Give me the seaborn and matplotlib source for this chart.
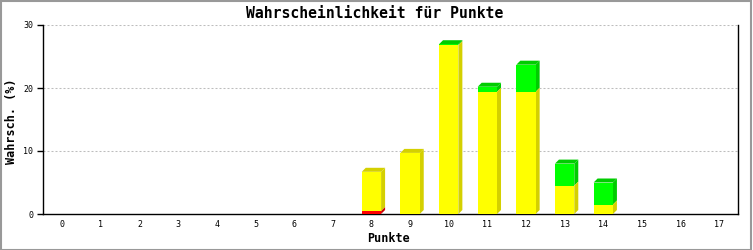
import matplotlib
matplotlib.use("Agg")
import matplotlib.pyplot as plt
import seaborn as sns
import pandas as pd
import numpy as np
from matplotlib.patches import Polygon, Rectangle

# ---- data ----
categories = [str(i) for i in range(18)]
red    = [0, 0, 0, 0, 0, 0, 0, 0, 0.45, 0, 0, 0, 0, 0, 0, 0, 0, 0]
yellow = [0, 0, 0, 0, 0, 0, 0, 0, 6.25, 9.7, 26.8, 19.4, 19.4, 4.5, 1.5, 0, 0, 0]
green  = [0, 0, 0, 0, 0, 0, 0, 0, 0, 0, 0.15, 0.8, 4.3, 3.5, 3.5, 0, 0, 0]
yticks = [0, 10, 20, 30]

title = "Wahrscheinlichkeit für Punkte"
xlabel = "Punkte"
ylabel = "Wahrsch. (%)"

front_cols = {"red": "#ff0000", "yellow": "#ffff00", "green": "#00ff00"}
side_cols = {"red": "#cc0000", "yellow": "#d4d000", "green": "#00cc00"}

sns.set_style("white")
plt.rcParams["font.family"] = ["DejaVu Sans Mono", "DejaVu Sans"]
plt.rcParams["lines.scale_dashes"] = False
for k in ["text.color", "axes.labelcolor", "xtick.color", "ytick.color"]:
    plt.rcParams[k] = "black"

fig = plt.figure(figsize=(7.53, 2.5), dpi=100)
ax = fig.add_axes([43 / 753, 36 / 250, (738.5 - 43) / 753, (214 - 25) / 250])

df = pd.DataFrame({"cat": categories, "red": red, "yellow": yellow, "green": green})
df["c_red"] = df["red"]
df["c_yellow"] = df["red"] + df["yellow"]
df["c_green"] = df["c_yellow"] + df["green"]

bw = 0.5
layers = ["green", "yellow", "red"]
for lay in layers:
    sns.barplot(data=df, x="cat", y="c_" + lay, order=categories, color=front_cols[lay],
                width=bw, saturation=1, linewidth=0, ax=ax, zorder=5)

ax.set_xlim(-0.5, 17.5)
ax.set_ylim(0, 30)
ax.set_yticks(yticks)
ax.set_yticklabels([str(v) for v in yticks])

# 3D depth in data units (4 px right, 4 px up)
fig.canvas.draw()
p0 = ax.transData.transform((0, 0))
p1 = ax.transData.inverted().transform((p0[0] + 4, p0[1] + 4))
dx, dy = p1[0], p1[1]

patches = ax.patches
n = len(categories)
bottoms = {"red": [0.0] * n, "yellow": list(df["c_red"]), "green": list(df["c_yellow"])}
tops = {"red": list(df["c_red"]), "yellow": list(df["c_yellow"]), "green": list(df["c_green"])}
for li, lay in enumerate(layers):
    for i in range(n):
        p = patches[li * n + i]
        x0 = p.get_x()
        x1 = x0 + p.get_width()
        b = bottoms[lay][i]
        t = tops[lay][i]
        if t - b <= 0:
            continue
        side = Polygon([(x1, b), (x1 + dx, b + dy), (x1 + dx, t + dy), (x1, t)],
                       closed=True, facecolor=side_cols[lay], edgecolor="none", zorder=3)
        ax.add_patch(side)
        if abs(t - df["c_green"][i]) < 1e-9:
            top = Polygon([(x0, t), (x0 + dx, t + dy), (x1 + dx, t + dy), (x1, t)],
                          closed=True, facecolor=side_cols[lay], edgecolor="none", zorder=4)
            ax.add_patch(top)

# grid
for v in yticks[1:]:
    ax.axhline(v, color="#bdbdbd", lw=0.75, linestyle=(0, (1.44, 1.44)), zorder=1)

for s in ["left", "bottom", "right"]:
    ax.spines[s].set_visible(True)
    ax.spines[s].set_color("black")
    ax.spines[s].set_linewidth(1.0)
ax.spines["top"].set_visible(False)

ax.tick_params(axis="y", length=4, width=1, color="black", direction="out", left=True,
               labelsize=6, pad=3, labelcolor="black")
ax.tick_params(axis="x", length=0, labelsize=6, pad=4, labelcolor="black")

ax.set_xlabel(xlabel, fontsize=8.5, fontweight="bold", color="black")
ax.set_ylabel(ylabel, fontsize=8.5, fontweight="bold", color="black")
ax.xaxis.set_label_coords((389 - 43) / 695.5, (214 - 239) / 189)
ax.yaxis.set_label_coords((12 - 43) / 695.5, (214 - 121) / 189)
ax.xaxis.label.set_va("center")
ax.yaxis.label.set_va("center")
fig.text(375 / 753, 1 - 13 / 250, title, ha="center", va="center", fontsize=10.6,
         fontweight="bold", color="black")

fig.patches.append(Rectangle((0.001, 0.002), 0.997, 0.995, transform=fig.transFigure,
                             fill=False, edgecolor="#999999", linewidth=1.5))

fig.savefig("out.png", dpi=100)
